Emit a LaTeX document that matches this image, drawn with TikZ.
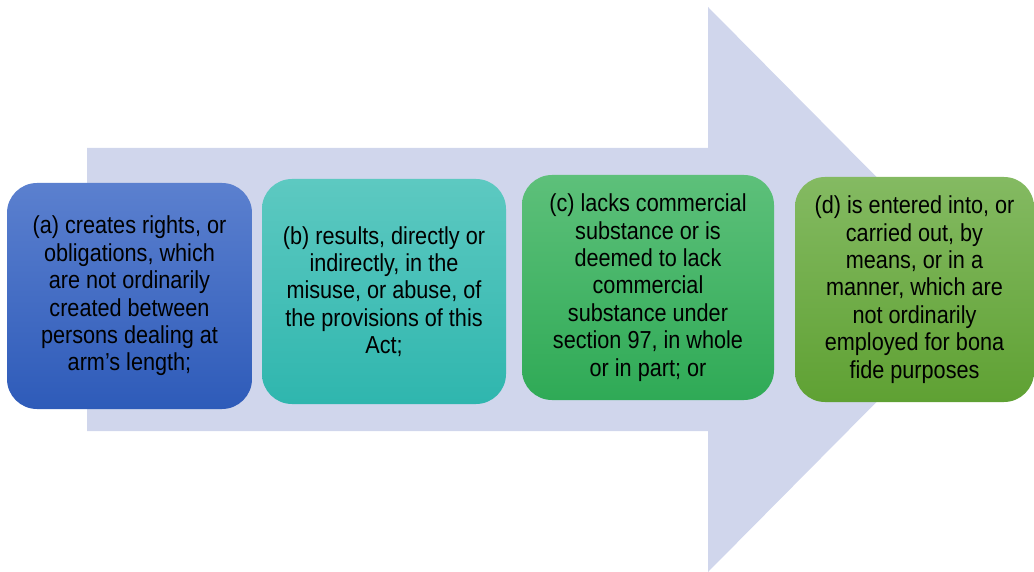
\documentclass[tikz,border=0pt]{standalone}
\usepackage{fontspec}
\setmainfont{Liberation Sans}[FakeStretch=0.88]
\definecolor{arrowfill}{HTML}{D0D6EC}
\definecolor{aTop}{HTML}{5B80CF}
\definecolor{aBot}{HTML}{2E5BB9}
\definecolor{bTop}{HTML}{5DC9C1}
\definecolor{bBot}{HTML}{2FB6AE}
\definecolor{cTop}{HTML}{5DC07A}
\definecolor{cBot}{HTML}{2FAA56}
\definecolor{dTop}{HTML}{84BA62}
\definecolor{dBot}{HTML}{5FA133}
\tikzset{
  card/.style={rounded corners=30pt, inner sep=0pt, align=center, text=black,
    font={\fontsize{24.6}{27.4}\selectfont}, minimum height=225pt}
}
\begin{document}
\begin{tikzpicture}[x=1pt,y=-1pt]
\useasboundingbox (0,0) rectangle (1034,572);
\fill[arrowfill] (87,148) -- (708,148) -- (708,7) -- (988,289.5) -- (708,572) -- (708,431) -- (87,431) -- cycle;
\node[card, top color=aTop, bottom color=aBot, minimum width=245pt, minimum height=226pt] (a) at (129.5,296)
  {(a) creates rights, or\\obligations, which\\are not ordinarily\\created between\\persons dealing at\\arm\char"0027 s length;};
\node[card, top color=bTop, bottom color=bBot, minimum width=244pt] (b) at (384,291.5)
  {(b) results, directly or\\indirectly, in the\\misuse, or abuse, of\\the provisions of this\\Act;};
\node[card, top color=cTop, bottom color=cBot, minimum width=252pt] (c) at (648,287.5)
  {(c) lacks commercial\\substance or is\\deemed to lack\\commercial\\substance under\\section 97, in whole\\or in part; or};
\node[card, top color=dTop, bottom color=dBot, minimum width=239pt] (d) at (914.5,289.5)
  {(d) is entered into, or\\carried out, by\\means, or in a\\manner, which are\\not ordinarily\\employed for bona\\fide purposes};
\end{tikzpicture}
\end{document}
